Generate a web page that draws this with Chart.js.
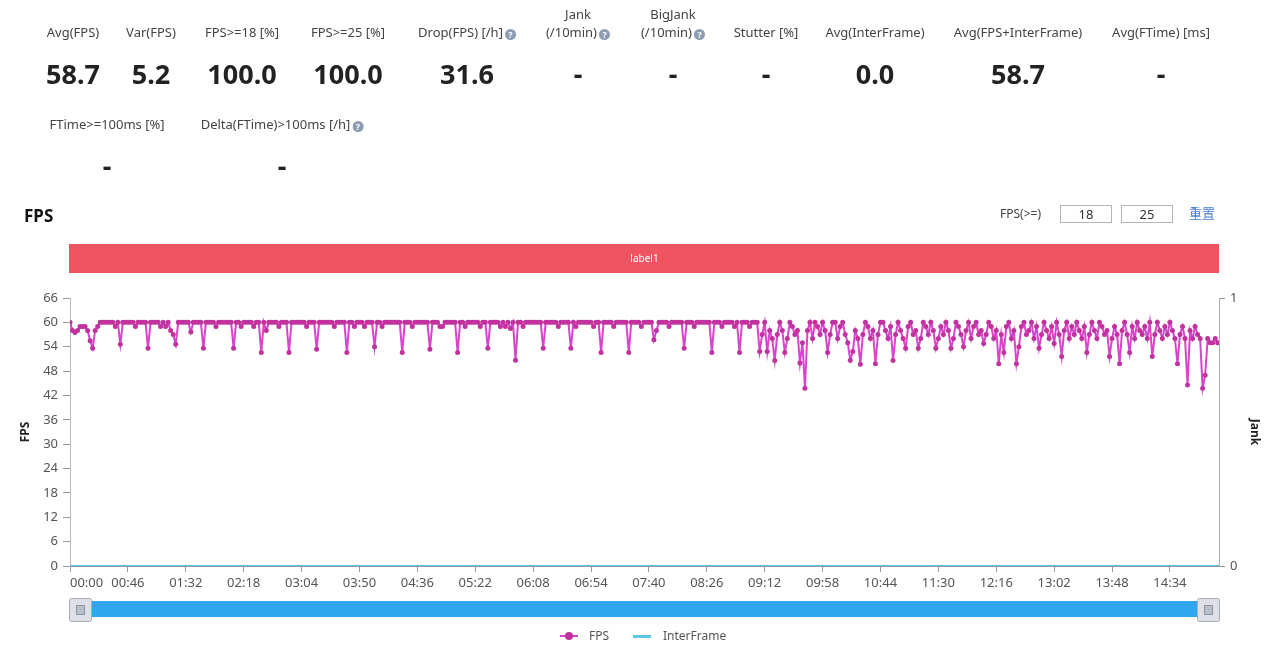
<!DOCTYPE html>
<html><head><meta charset="utf-8">
<script src="https://cdn.jsdelivr.net/npm/chart.js@4.4.0/dist/chart.umd.min.js"></script>
<style>
html,body{margin:0;padding:0;background:#fff;width:1280px;height:648px;overflow:hidden;font-family:"Noto Sans",sans-serif;}
#c{position:absolute;left:0;top:0;}
.lab{position:absolute;font-size:13px;color:#444;white-space:nowrap;transform:translateX(-50%);text-align:center;line-height:18px;}
.val{position:absolute;font-size:27px;font-weight:bold;color:#222;transform:translateX(-50%);line-height:32px;white-space:nowrap;}
.ic{display:inline-block;width:11px;height:11px;border-radius:50%;background:#8d9cb3;color:#fff;font-size:9px;line-height:11px;text-align:center;vertical-align:-1px;margin-left:2px;font-weight:bold;}
.ttl{position:absolute;left:24px;top:204px;font-size:17px;font-weight:bold;color:#111;}
.ctl{position:absolute;font-size:12px;color:#444;}
.box{position:absolute;top:205px;width:50px;height:16px;border:1px solid #b5b5b5;font-size:13px;line-height:16px;text-align:center;color:#333;}
.lg{position:absolute;top:627px;font-size:12px;color:#555;line-height:18px;}
</style></head>
<body>
<canvas id="c" width="1280" height="648"></canvas>
<div id="stats"></div>
<div class="ttl">FPS</div>
<div class="ctl" style="left:1000px;top:205px;">FPS(&gt;=)</div>
<div class="box" style="left:1060px;">18</div>
<div class="box" style="left:1121px;">25</div>
<div class="ctl" style="left:1189px;top:203px;font-size:13px;color:#4a7fd6;font-family:'Noto Sans CJK SC';">重置</div>
<div id="legend"></div>
<script>
// ---- summary table ----
const statLabels = ['Avg(FPS)','Var(FPS)','FPS>=18 [%]','FPS>=25 [%]','Drop(FPS) [/h]','Jank|(/10min)','BigJank|(/10min)','Stutter [%]','Avg(InterFrame)','Avg(FPS+InterFrame)','Avg(FTime) [ms]'];
const statValues = ['58.7','5.2','100.0','100.0','31.6','-','-','-','0.0','58.7','-'];
const statHelp   = [false,false,false,false,true,true,true,false,false,false,false];
const statX      = [73,151,242,348,467,578,673,766,875,1018,1161];
const stat2Labels = ['FTime>=100ms [%]','Delta(FTime)>100ms [/h]'];
const stat2Values = ['-','-'];
const stat2Help   = [false,true];
const stat2X      = [107,282];

// ---- chart data ----
const SAMPLE_STEP_S = 2;
const X_MAX_S = 913;
const fps = [
60,58,57.5,58,59,59,59,58,55.5,53.6,58,59,60,60,60,60,60,60,59,60,
54.6,60,60,60,60,60,59,60,60,60,60,53.6,60,60,60,60,59,60,59,60,
58,57,54.6,60,60,60,60,60,57.6,60,60,60,60,53.6,60,60,60,60,59,60,
60,60,60,60,60,53.6,60,60,59,60,60,60,60,59,60,60,52.6,60,58,60,
60,60,60,59,60,60,60,52.6,60,60,60,60,60,60,59,60,60,60,53.4,60,
60,60,60,60,60,59,60,60,60,60,52.6,60,60,59,60,60,60,59,60,60,
60,54,60,60,59,60,60,60,60,60,60,60,52.6,60,60,60,59,60,60,60,
60,60,60,53.4,60,60,60,59,59,60,60,60,60,60,52.6,60,60,59,60,60,
60,60,60,59,60,60,53.6,60,60,60,60,59,60,59,60,58.5,60,50.7,60,60,
59,60,60,60,60,60,60,60,53.6,60,60,60,60,60,59,60,60,60,60,53.6,
60,59,60,60,60,60,60,60,59,60,60,52.6,60,60,60,60,59,60,60,60,
60,60,52.6,60,60,60,60,59,60,60,60,60,55.7,58,60,60,60,60,59,60,
60,60,60,60,53.6,60,60,60,59,60,60,60,60,60,60,52.6,60,60,60,59,
60,60,60,60,59,60,52.6,60,60,60,59,60,60,60,52.8,57,60,52.8,58,56,
50.6,57,60,58,52.6,56,60,59,57,58,50,55,43.8,58,60,56,60,59,57,60,
58,52.6,57,60,60,56,59,60,57,55,50.7,52.8,58,56,49.7,57,60,59,56,58,
49.8,57,60,60,58,56,59,50.6,57,60,58,56,53.6,59,60,57,58,53.6,56,60,
59,57,60,58,53.6,56,59,57,60,58,53.6,56,60,59,57,54,58,60,56,59,
60,57,58,54.8,57,60,59,56,58,49.8,57,52.6,59,60,56,58,49.8,54,59,60,
57,58,60,56,59,53.6,57,60,58,56,59,54.8,60,57,51.6,58,60,56,59,57,
60,58,56,59,52.6,57,60,58,56,60,59,57,58,51.6,56,59,57,49.8,58,60,
57,52.6,59,56,60,58,57,59,56,60,51.6,57,60,58,56,59,57,60,58,56,
49.8,57,59,56,44.6,58,56,59,57,56,43.8,47,56,55,55,56,55
];
const interFrameTimes  = [0, 913];
const interFrameValues = [0, 0];
const xTickSeconds = [0,46,92,138,184,230,276,322,368,414,460,506,552,598,644,690,736,782,828,874];
const xTickLabels  = ['00:00','00:46','01:32','02:18','03:04','03:50','04:36','05:22','06:08','06:54','07:40','08:26','09:12','09:58','10:44','11:30','12:16','13:02','13:48','14:34'];
const fpsAxis  = {min:0, max:66, step:6};
const jankAxis = {min:0, max:1, step:1};
const bandLabel = 'label1';

// ---- build summary HTML ----
function help(h){return h?'<span class="ic">?</span>':'';}
let html='';
statLabels.forEach((l,i)=>{
  const parts=l.split('|');
  if(parts.length===2){
    html+=`<div class="lab" style="left:${statX[i]}px;top:5px;">${parts[0]}<br>${parts[1]}${help(statHelp[i])}</div>`;
  } else {
    html+=`<div class="lab" style="left:${statX[i]}px;top:23px;">${l}${help(statHelp[i])}</div>`;
  }
  html+=`<div class="val" style="left:${statX[i]}px;top:58px;">${statValues[i]}</div>`;
});
stat2Labels.forEach((l,i)=>{
  html+=`<div class="lab" style="left:${stat2X[i]}px;top:115px;">${l}${help(stat2Help[i])}</div>`;
  html+=`<div class="val" style="left:${stat2X[i]}px;top:150px;">${stat2Values[i]}</div>`;
});
document.getElementById('stats').innerHTML=html.replace(/>=/g,'&gt;=').replace(/\)>1/g,')&gt;1');

const FPS_LINE='#d845cc', FPS_DOT='#c2329f', IF_COLOR='#5cc4e6';
document.getElementById('legend').innerHTML=
 `<div style="position:absolute;left:560px;top:635px;width:18px;height:2px;background:${FPS_LINE}"></div>`+
 `<div style="position:absolute;left:565px;top:632px;width:8px;height:8px;border-radius:50%;background:${FPS_DOT}"></div>`+
 `<div class="lg" style="left:589px;">FPS</div>`+
 `<div style="position:absolute;left:633px;top:635px;width:18px;height:3px;background:${IF_COLOR}"></div>`+
 `<div class="lg" style="left:663px;">InterFrame</div>`;

// ---- plugins ----
const bandPlugin={id:'band',beforeDraw(chart){
  const {ctx,chartArea:a}=chart;
  ctx.save();
  ctx.fillStyle='#ee5462';
  ctx.fillRect(a.left-1,244,a.right-a.left+1,29);
  ctx.fillStyle='#fff';ctx.font='10px "Noto Sans"';ctx.textAlign='center';ctx.textBaseline='middle';
  ctx.fillText(bandLabel,(a.left+a.right)/2,259);
  ctx.restore();
}};
const sliderPlugin={id:'slider',afterDraw(chart){
  const {ctx,chartArea:a}=chart;
  ctx.save();
  ctx.fillStyle='#2fa6ee';
  ctx.fillRect(a.left,601,a.right-a.left,16);
  function handle(x){
    ctx.fillStyle='#dde1e7';ctx.strokeStyle='#a9adb3';ctx.lineWidth=1;
    ctx.beginPath();ctx.roundRect(x+0.5,598.5,22,23,2);ctx.fill();ctx.stroke();
    ctx.fillStyle='#b8c0cc';ctx.strokeStyle='#8e96a3';
    ctx.fillRect(x+7.5,605.5,8,9);ctx.strokeRect(x+7.5,605.5,8,9);
  }
  handle(a.left-1);handle(a.right-22);
  ctx.restore();
}};

const ticksFont={family:'"Noto Sans"',size:13};
new Chart(document.getElementById('c'),{
  type:'line',
  data:{datasets:[
    {label:'FPS',data:fps.map((v,i)=>({x:i*SAMPLE_STEP_S,y:v})),borderColor:FPS_LINE,borderWidth:2,
     pointRadius:2.5,pointBorderWidth:0,pointBackgroundColor:FPS_DOT,backgroundColor:FPS_DOT,yAxisID:'y',order:2},
    {label:'InterFrame',data:interFrameTimes.map((t,i)=>({x:t,y:interFrameValues[i]})),borderColor:IF_COLOR,borderWidth:2,
     pointRadius:0,yAxisID:'y',order:1}
  ]},
  options:{
    responsive:false,animation:false,
    layout:{padding:{top:298,left:0,right:0,bottom:0}},
    plugins:{legend:{display:false},tooltip:{enabled:false}},
    scales:{
      x:{type:'linear',min:0,max:X_MAX_S,
        afterBuildTicks:s=>{s.ticks=xTickSeconds.map(v=>({value:v})).concat([{value:X_MAX_S}]);},
        ticks:{callback:(v,i)=>xTickLabels[i]!==undefined?xTickLabels[i]:'',align:'inner',maxRotation:0,autoSkip:false,color:'#555',font:ticksFont,padding:3},
        grid:{drawOnChartArea:false,tickLength:6,color:(c)=>c.index<xTickSeconds.length?'#8a98a8':'rgba(0,0,0,0)'},
        border:{color:'#8a98a8'},
        afterFit:s=>{s.height=82;}},
      y:{position:'left',min:fpsAxis.min,max:fpsAxis.max,
        ticks:{stepSize:fpsAxis.step,color:'#555',font:ticksFont,padding:5},
        grid:{drawOnChartArea:false,tickLength:7,color:'#999'},
        border:{color:'#b5bcc6'},
        title:{display:true,text:'FPS',color:'#222',font:{family:'"Noto Sans"',size:12,weight:'bold'},padding:{top:18,bottom:0}},
        afterFit:s=>{s.width=70;}},
      y2:{position:'right',min:jankAxis.min,max:jankAxis.max,
        ticks:{stepSize:jankAxis.step,color:'#555',font:ticksFont,padding:5},
        grid:{drawOnChartArea:false,tickLength:6,color:'#999'},
        border:{color:'#a8aeb6'},
        title:{display:true,text:'Jank',color:'#222',font:{family:'"Noto Sans"',size:12,weight:'bold'},padding:{top:18,bottom:0}},
        afterFit:s=>{s.width=61;}}
    }
  },
  plugins:[bandPlugin,sliderPlugin]
});
</script>
</body></html>
